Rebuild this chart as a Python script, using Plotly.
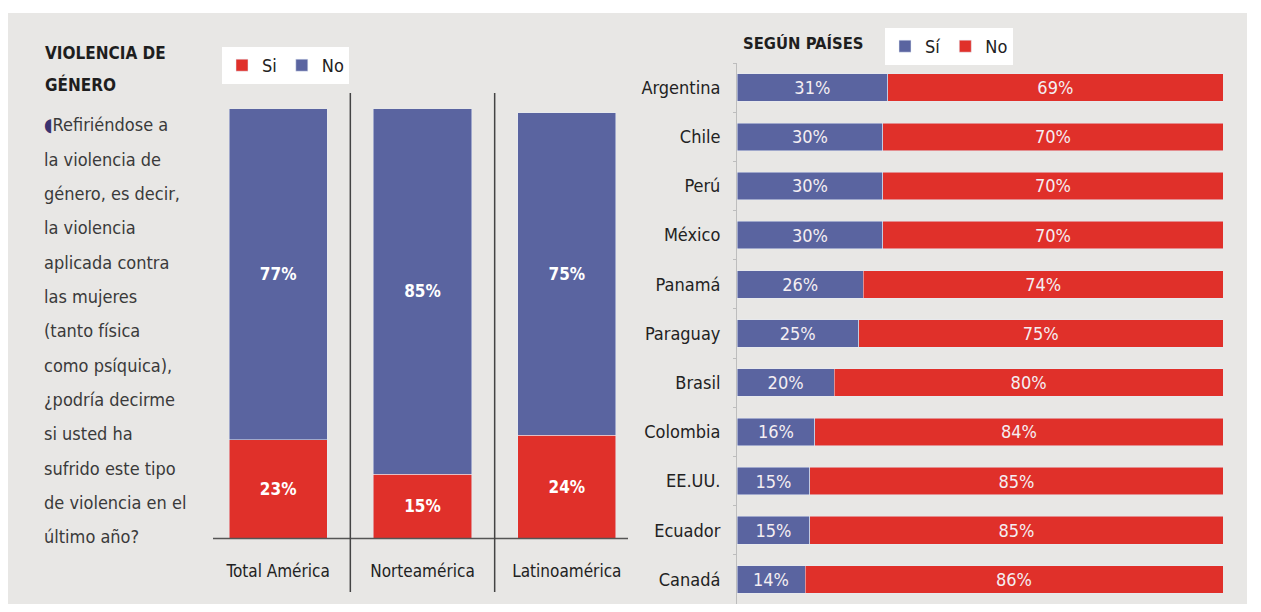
import plotly.graph_objects as go

# page is 1261x612; the html body has an 8px margin, so the figure is sized to fit inside it
OFF = 8
W, H = 1261 - 2 * OFF, 612 - 2 * OFF

# ---- data ----
regions = ["Total América", "Norteamérica", "Latinoamérica"]
region_si = [23, 15, 24]
region_no = [77, 85, 75]

countries = ["Argentina", "Chile", "Perú", "México", "Panamá", "Paraguay",
             "Brasil", "Colombia", "EE.UU.", "Ecuador", "Canadá"]
country_si = [31, 30, 30, 30, 26, 25, 20, 16, 15, 15, 14]
country_no = [69, 70, 70, 70, 74, 75, 80, 84, 85, 85, 86]

title_lines = ["VIOLENCIA DE", "GÉNERO"]
body_lines = ["Refiriéndose a", "la violencia de", "género, es decir,", "la violencia",
              "aplicada contra", "las mujeres", "(tanto física", "como psíquica),",
              "¿podría decirme", "si usted ha", "sufrido este tipo",
              "de violencia en el", "último año?"]

RED = "#e0302a"
BLUE = "#5a64a0"
BG = "#e8e7e5"
TXT = "#2a2a2a"
FONT = "Liberation Sans Narrow, Arial Narrow, DejaVu Sans Condensed, sans-serif"


def px(x):
    return (x - OFF) / W


def py(y):
    return 1 - (y - OFF) / H


fig = go.Figure()

fig.add_trace(go.Bar(x=regions, y=region_si, name="Si", marker_color=RED,
                     xaxis="x", yaxis="y", legend="legend", width=0.68,
                     texttemplate="<b>%{y}%</b>", textposition="inside",
                     insidetextanchor="middle", textangle=0,
                     textfont=dict(color="white", size=17, family=FONT)))
fig.add_trace(go.Bar(x=regions, y=region_no, name="No", marker_color=BLUE,
                     xaxis="x", yaxis="y", legend="legend", width=0.68,
                     texttemplate="<b>%{y}%</b>", textposition="inside",
                     insidetextanchor="middle", textangle=0,
                     textfont=dict(color="white", size=17, family=FONT)))

fig.add_trace(go.Bar(y=countries, x=country_si, name="Sí", orientation="h",
                     marker_color=BLUE, xaxis="x2", yaxis="y2", legend="legend2",
                     width=0.56, texttemplate="%{x}%", textposition="inside",
                     insidetextanchor="middle", textangle=0,
                     textfont=dict(color="#f4eef2", size=18, family=FONT)))
fig.add_trace(go.Bar(y=countries, x=country_no, name="No", orientation="h",
                     marker_color=RED, xaxis="x2", yaxis="y2", legend="legend2",
                     width=0.56, texttemplate="%{x}%", textposition="inside",
                     insidetextanchor="middle", textangle=0,
                     textfont=dict(color="#f4eef2", size=18, family=FONT)))

shapes = [
    dict(type="rect", xref="paper", yref="paper", x0=px(8), x1=px(1247),
         y0=py(604), y1=py(13), fillcolor=BG, line_width=0, layer="below"),
    dict(type="line", xref="paper", yref="paper", x0=px(213), x1=px(628),
         y0=py(538.5), y1=py(538.5), line=dict(color="#555555", width=1.5)),
    dict(type="line", xref="x", yref="paper", x0=0.5, x1=0.5,
         y0=py(592), y1=py(93), line=dict(color="#444444", width=1.5)),
    dict(type="line", xref="x", yref="paper", x0=1.5, x1=1.5,
         y0=py(592), y1=py(93), line=dict(color="#444444", width=1.5)),
]

annotations = []
for i, line in enumerate(title_lines):
    annotations.append(dict(xref="paper", yref="paper", x=px(43), y=py(53 + i * 32),
                            text="<b>" + line + "</b>", showarrow=False,
                            xanchor="left", yanchor="middle",
                            font=dict(family=FONT, size=17, color="#1e1e1e")))
for i, line in enumerate(body_lines):
    t = line
    if i == 0:
        t = "<span style='color:#3b3370'>◖</span>" + line
    annotations.append(dict(xref="paper", yref="paper", x=px(42), y=py(125 + i * 34.3), text=t,
                            showarrow=False, xanchor="left", yanchor="middle",
                            font=dict(family=FONT, size=18, color="#3a3a3a")))
annotations.append(dict(xref="paper", yref="paper", x=px(741), y=py(43), text="<b>SEGÚN PAÍSES</b>",
                        showarrow=False, xanchor="left", yanchor="middle",
                        font=dict(family=FONT, size=16.5, color="#1e1e1e")))

fig.update_layout(
    width=W, height=H,
    margin=dict(l=0, r=0, t=0, b=0),
    paper_bgcolor="white", plot_bgcolor="rgba(0,0,0,0)",
    barmode="stack",
    font=dict(family=FONT, color=TXT),
    shapes=shapes, annotations=annotations,
    xaxis=dict(domain=[px(206), px(639)], range=[-0.5, 2.5], showline=False,
               showgrid=False, zeroline=False, ticks="", ticklabelstandoff=20,
               tickfont=dict(size=17, color="#222222", family=FONT), fixedrange=True),
    yaxis=dict(domain=[py(538.5), py(108.5)], range=[0, 100], visible=False),
    xaxis2=dict(domain=[px(737), px(1223)], range=[0, 100], visible=False),
    yaxis2=dict(domain=[py(604), py(63)], anchor="x2", autorange="reversed",
                showline=True, linecolor="#bdbdbd", linewidth=1,
                tickson="boundaries", ticks="outside", ticklen=3, tickcolor="#bdbdbd",
                showgrid=False, ticklabelstandoff=12,
                tickfont=dict(size=18, color="#222222", family=FONT)),
    legend=dict(orientation="h", x=px(222), y=py(47), xanchor="left", yanchor="top",
                bgcolor="white", font=dict(size=18, family=FONT, color="#222222"),
                itemwidth=30, traceorder="normal"),
    legend2=dict(orientation="h", x=px(885), y=py(28), xanchor="left", yanchor="top",
                 bgcolor="white", font=dict(size=18, family=FONT, color="#222222"),
                 itemwidth=30, traceorder="normal"),
    showlegend=True,
)

fig.write_html("out.html")
